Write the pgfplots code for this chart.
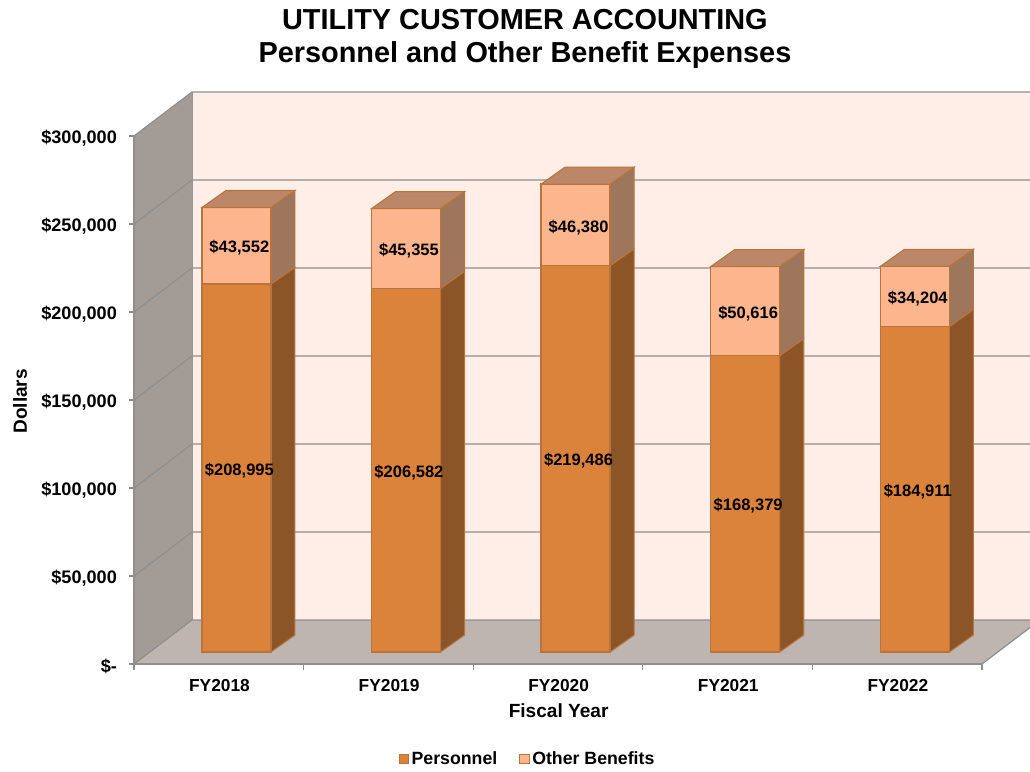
\documentclass[border=0pt]{standalone}
\usepackage{pgfplots}
\pgfplotsset{compat=1.18}
\usepackage{fontspec}
\setmainfont{Liberation Sans}
\definecolor{backwall}{HTML}{FEEEE7}
\definecolor{sidewall}{HTML}{A39B96}
\definecolor{floorc}{HTML}{BFB5B0}
\definecolor{gridc}{HTML}{8E8E8E}
\definecolor{barline}{HTML}{B8743A}
\definecolor{perf}{HTML}{DB823B}
\definecolor{pers}{HTML}{8B5527}
\definecolor{othf}{HTML}{FDB58E}
\definecolor{oths}{HTML}{9E765B}
\definecolor{otht}{HTML}{BB8768}
% #1 category, #2 base, #3 value, #4 front colour, #5 side colour
\newcommand{\segment}[5]{%
  \pgfmathsetmacro\xl{#1+.104-.2034}%
  \pgfmathsetmacro\xr{#1+.104+.2034}%
  \pgfmathsetmacro\xb{\xr+.1415}%
  \edef\yb{\the\numexpr#2+6818\relax}%
  \edef\yt{\the\numexpr#2+#3+6818\relax}%
  \edef\ybb{\the\numexpr#2+6818+9659\relax}%
  \edef\ytb{\the\numexpr#2+#3+6818+9659\relax}%
  \edef\tmp{\noexpand\addplot[fill=#5,draw=barline,line width=0.8pt,forget plot] coordinates {(\xr,\yb) (\xb,\ybb) (\xb,\ytb) (\xr,\yt)} --cycle;}\tmp
  \edef\tmp{\noexpand\addplot[fill=#4,draw=barline,line width=1.1pt,forget plot] coordinates {(\xl,\yb) (\xr,\yb) (\xr,\yt) (\xl,\yt)} --cycle;}\tmp
}
% #1 category, #2 stack height
\newcommand{\bartop}[2]{%
  \pgfmathsetmacro\xl{#1+.104-.2034}%
  \pgfmathsetmacro\xr{#1+.104+.2034}%
  \pgfmathsetmacro\xb{\xr+.1415}%
  \pgfmathsetmacro\xa{\xl+.1415}%
  \edef\yt{\the\numexpr#2+6818\relax}%
  \edef\ytb{\the\numexpr#2+6818+9659\relax}%
  \edef\tmp{\noexpand\addplot[fill=otht,draw=barline,line width=0.8pt,forget plot] coordinates {(\xl,\yt) (\xr,\yt) (\xb,\ytb) (\xa,\ytb)} --cycle;}\tmp
}
% #1 category, #2 personnel, #3 other benefits
\newcommand{\stackedbar}[3]{%
  \segment{#1}{0}{#2}{perf}{pers}%
  \segment{#1}{#2}{#3}{othf}{oths}%
  \bartop{#1}{\the\numexpr#2+#3\relax}%
}
\begin{document}
\begin{tikzpicture}
\path[use as bounding box,clip] (0,0) rectangle (772.5pt,578.25pt);
\begin{axis}[
  at={(100.5pt,80.25pt)}, anchor=south west,
  scale only axis, width=636pt, height=396pt,
  xmin=-0.5, xmax=4.5, ymin=0, ymax=300000,
  clip=false, axis on top=true,
  scaled y ticks=false,
  axis x line*=bottom, axis y line*=left,
  axis line style={gridc,line width=0.8pt,-},
  tick style={gridc,line width=0.8pt},
  tick align=outside, major tick length=4pt, minor tick length=4.5pt,
  xtick={0,1,2,3,4},
  xticklabels={FY2018,FY2019,FY2020,FY2021,FY2022},
  minor xtick={-0.5,0.5,1.5,2.5,3.5,4.5},
  major x tick style={draw=none},
  minor x tick style={draw=gridc,line width=0.8pt},
  ytick={0,50000,100000,150000,200000,250000,300000},
  yticklabels={{\$-},{\$50,000},{\$100,000},{\$150,000},{\$200,000},{\$250,000},{\$300,000}},
  xticklabel style={font=\bfseries\fontsize{13}{15}\selectfont,text=black,yshift=-4pt,xshift=0.5pt},
  yticklabel style={font=\bfseries\fontsize{13.6}{15}\selectfont,text=black,xshift=-5.3pt,yshift=-2pt},
  xlabel={Fiscal Year}, ylabel={Dollars},
  label style={font=\bfseries\fontsize{14.3}{16}\selectfont},
  xlabel style={at={(axis description cs:0.5007,-0.0890)},anchor=center},
  ylabel style={at={(axis description cs:-0.1344,0.4975)},anchor=center},
  title={UTILITY CUSTOMER ACCOUNTING\\Personnel and Other Benefit Expenses},
  title style={at={(axis description cs:0.461,1.168)},anchor=center,align=center,
    font=\bfseries\fontsize{21.66}{24.75}\selectfont},
  legend columns=2,
  legend style={at={(axis description cs:0.4645,-0.18)},anchor=center,draw=none,fill=none,
    font=\bfseries\fontsize{13.3}{15}\selectfont,
    /tikz/every even column/.append style={column sep=14.5pt},
    inner sep=0pt,outer sep=0pt},
  legend cell align=left,
  legend image code/.code={\draw[#1,line width=0.7pt] (0pt,-3.4pt) rectangle (7pt,3.4pt);},
]
% walls and floor
\addplot[fill=backwall,draw=none,forget plot] coordinates {(-0.158,25000) (4.842,25000) (4.842,325000) (-0.158,325000)} --cycle;
\addplot[fill=sidewall,draw=none,forget plot] coordinates {(-0.5,0) (-0.158,25000) (-0.158,325000) (-0.5,300000)} --cycle;
\addplot[fill=floorc,draw=none,forget plot] coordinates {(-0.5,0) (4.5,0) (4.842,25000) (-0.158,25000)} --cycle;
% gridlines
\addplot[gridc,line width=0.9pt,forget plot] coordinates {(-0.5,0) (-0.158,25000) (4.842,25000) (4.5,0)};
\addplot[gridc,line width=0.9pt,forget plot] coordinates {(-0.5,50000) (-0.158,75000) (4.842,75000)};
\addplot[gridc,line width=0.9pt,forget plot] coordinates {(-0.5,100000) (-0.158,125000) (4.842,125000)};
\addplot[gridc,line width=0.9pt,forget plot] coordinates {(-0.5,150000) (-0.158,175000) (4.842,175000)};
\addplot[gridc,line width=0.9pt,forget plot] coordinates {(-0.5,200000) (-0.158,225000) (4.842,225000)};
\addplot[gridc,line width=0.9pt,forget plot] coordinates {(-0.5,250000) (-0.158,275000) (4.842,275000)};
\addplot[gridc,line width=0.9pt,forget plot] coordinates {(-0.5,300000) (-0.158,325000) (4.842,325000)};
\addplot[gridc!50!sidewall,line width=0.6pt,forget plot] coordinates {(-0.158,25000) (-0.158,325000)};
% bars
\stackedbar{0}{208995}{43552}
\stackedbar{1}{206582}{45355}
\stackedbar{2}{219486}{46380}
\stackedbar{3}{168379}{50616}
\stackedbar{4}{184911}{34204}
% value labels
\begin{scope}[every node/.style={font=\bfseries\fontsize{12.4}{15}\selectfont,text=black,inner sep=0pt,xshift=2.2pt,yshift=-1.7pt}]
\node at (axis cs:0.104,111315) {\$208,995};
\node at (axis cs:1.104,110109) {\$206,582};
\node at (axis cs:2.104,116561) {\$219,486};
\node at (axis cs:3.104,91008) {\$168,379};
\node at (axis cs:4.104,99274) {\$184,911};
\node at (axis cs:0.104,237589) {\$43,552};
\node at (axis cs:1.104,236078) {\$45,355};
\node at (axis cs:2.104,249494) {\$46,380};
\node at (axis cs:3.104,200505) {\$50,616};
\node at (axis cs:4.104,208831) {\$34,204};
\end{scope}
\addlegendimage{fill=perf,draw=barline}
\addlegendentry{Personnel}
\addlegendimage{fill=othf,draw=barline}
\addlegendentry{Other Benefits}
\end{axis}
\end{tikzpicture}
\end{document}
